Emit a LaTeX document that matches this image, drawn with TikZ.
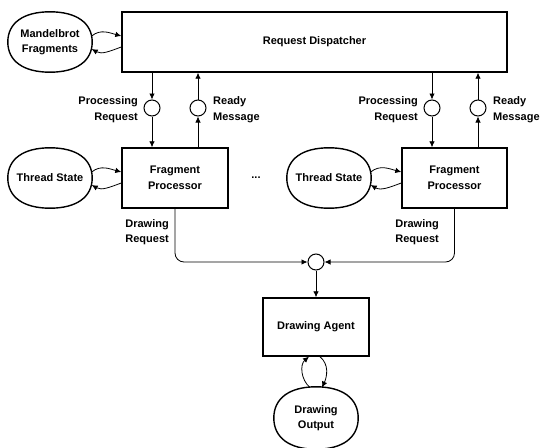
\documentclass[tikz,border=0pt]{standalone}
\usepackage{fontspec}
\setmainfont{Liberation Sans}
\usetikzlibrary{arrows.meta,shapes.geometric,calc}

\tikzset{
  txt/.style={font=\bfseries\fontsize{11}{15.5}\selectfont},
  box/.style={txt, draw, line width=1.4pt, align=center, inner sep=0pt},
  store/.style={txt, align=center, inner sep=0pt,
    minimum width=84pt, minimum height=60pt},
  port/.style={draw, circle, line width=1pt, minimum size=16pt, inner sep=0pt},
  flow/.style={line width=0.8pt, -{Latex[length=6pt,width=5.5pt]}},
  lblr/.style={txt, align=right, anchor=east, inner sep=0pt},
  lbll/.style={txt, align=left, anchor=west, inner sep=0pt},
  outline/.style={line width=1.4pt},
}

\begin{document}
\begin{tikzpicture}[x=1pt,y=1pt]
  \useasboundingbox (0,0) rectangle (543,-447);

  % dispatcher and its fragment store
  \node[box, minimum width=385pt, minimum height=60pt] (disp) at (314.5,-42) {Request Dispatcher};
  \node[store] (mf) at (50,-42) {Mandelbrot\\Fragments};

  % left worker
  \node[box, minimum width=106pt, minimum height=60pt] (fp1) at (175,-178) {Fragment\\Processor};
  \node[store] (ts1) at (50,-178) {Thread State};
  \node[port] (pr1) at (152,-108) {};
  \node[port] (rm1) at (198,-108) {};
  \node[lblr] (pr1l) at (138,-109.5) {Processing\\Request};
  \node[lbll] (rm1l) at (213,-109.5) {Ready\\Message};
  \node[lblr] (dr1l) at (169,-232) {Drawing\\Request};

  \node[txt] (dots) at (256,-178) {...};

  % right worker
  \node[box, minimum width=105pt, minimum height=60pt] (fp2) at (454.5,-178) {Fragment\\Processor};
  \node[store] (ts2) at (329,-178) {Thread State};
  \node[port] (pr2) at (432,-108) {};
  \node[port] (rm2) at (478,-108) {};
  \node[lblr] (pr2l) at (418,-109.5) {Processing\\Request};
  \node[lbll] (rm2l) at (493,-109.5) {Ready\\Message};
  \node[lblr] (dr2l) at (439,-232) {Drawing\\Request};

  % drawing side
  \node[port] (merge) at (316,-262) {};
  \node[box, minimum width=106pt, minimum height=58pt] (da) at (316,-327) {Drawing Agent};
  \node[store, minimum height=62pt] (do) at (316,-418) {Drawing\\Output};

  % full oval outlines of the stores
  \foreach \s in {mf, ts1, ts2, do} {
    \draw[outline] (\s.east)
      .. controls ($(\s.east)!0.63!(\s.north east)$) and ($(\s.north)!0.63!(\s.north east)$) .. (\s.north)
      .. controls ($(\s.north)!0.63!(\s.north west)$) and ($(\s.west)!0.63!(\s.north west)$) .. (\s.west)
      .. controls ($(\s.west)!0.63!(\s.south west)$) and ($(\s.south)!0.63!(\s.south west)$) .. (\s.south)
      .. controls ($(\s.south)!0.63!(\s.south east)$) and ($(\s.east)!0.63!(\s.south east)$) .. (\s.east)
      -- cycle;
  }

  % request / ready channels
  \foreach \p/\r/\f in {pr1/rm1/fp1, pr2/rm2/fp2} {
    \draw[flow] (\p |- disp.south) -- (\p.north);
    \draw[flow] (\p.south) -- (\p |- \f.north);
    \draw[flow] (\r |- \f.north) -- (\r.south);
    \draw[flow] (\r.north) -- (\r |- disp.south);
  }

  % drawing requests merge
  \draw[flow, rounded corners=9pt] (fp1.south) |- (merge.west);
  \draw[flow, rounded corners=9pt] (fp2.south) |- (merge.east);
  \draw[flow] (merge.south) -- (da.north);

  % read/write loops with the stores
  \foreach \s/\b in {mf/disp, ts1/fp1, ts2/fp2} {
    \draw[flow] ([xshift=-0.5pt,yshift=6pt]\s.east) to[out=40,in=165] ([yshift=6pt]\b.west);
    \draw[flow] ([yshift=-5pt]\b.west) to[out=-160,in=-30] ([xshift=-0.5pt,yshift=-7pt]\s.east);
  }
  \draw[flow] ([xshift=-6pt,yshift=-0.7pt]do.north) to[out=140,in=-140] ([xshift=-7pt]da.south);
  \draw[flow] ([xshift=4pt]da.south) to[out=-40,in=65] ([xshift=6pt,yshift=-0.7pt]do.north);
\end{tikzpicture}
\end{document}
